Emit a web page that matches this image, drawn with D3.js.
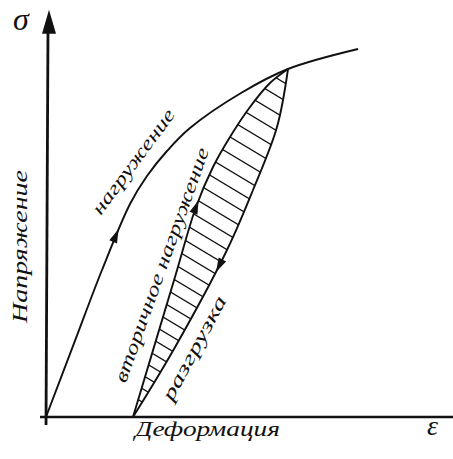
<!DOCTYPE html>
<html><head><meta charset="utf-8">
<script src="https://cdn.jsdelivr.net/npm/d3@7"></script>
<style>html,body{margin:0;padding:0;background:#fff;}svg{display:block}</style>
</head><body>
<svg id="c" width="453" height="459"></svg>
<script>
// ---- data (arbitrary units: strain ε, stress σ) ----
const loadStrain   = [0, 0.7, 1.4, 2.1, 2.525, 3.025, 3.6, 4.875, 6.05, 7.8];
const loadStress   = [0, 1.84, 3.675, 5.325, 6.025, 6.65, 7.225, 8.1, 8.7, 9.2];
const reloadStrain = [2.175, 3.225, 3.75, 4.175, 4.6, 5.1, 5.6, 6.05];
const reloadStress = [0, 3.5, 5.25, 6.25, 7.0, 7.75, 8.35, 8.7];
const unloadStrain = [6.05, 5.775, 5.175, 4.525, 3.2, 2.175];
const unloadStress = [8.7, 7.25, 5.675, 4.175, 1.7, 0];
const arrowCurve   = ["load", "reload", "unload"];
const arrowStrain  = [1.75, 3.8, 4.3];
const arrowStress  = [4.725, 5.425, 3.6];
const strainAxisExtent = [-0.15, 10.2];
const stressAxisExtent = [-0.2, 10.18];
const yAxisSymbol = "σ";
const xAxisSymbol = "ε";
const yAxisTitle = "Напряжение";
const xAxisTitle = "Деформация";
const curveLabels = ["нагружение", "вторичное нагружение", "разгрузка"];

// ---- scales ----
const x = d3.scaleLinear().domain([0, 10]).range([46, 446]);
const y = d3.scaleLinear().domain([0, 10]).range([417, 17]);
const svg = d3.select("#c");
const ink = "#111";
const line = d3.line().x(d => x(d[0])).y(d => y(d[1])).curve(d3.curveCatmullRom.alpha(0.5));
const zip = (a, b) => a.map((v, i) => [v, b[i]]);
const loadPts = zip(loadStrain, loadStress);
const reloadPts = zip(reloadStrain, reloadStress);
const unloadPts = zip(unloadStrain, unloadStress);

// ---- hatched lens (hysteresis loop) ----
const lensD = line(reloadPts) + line(unloadPts).replace(/^M/, "L") + "Z";
svg.append("clipPath").attr("id", "lens").append("path").attr("d", lensD);
const allX = reloadPts.concat(unloadPts).map(d => x(d[0]));
const allY = reloadPts.concat(unloadPts).map(d => y(d[1]));
const x0 = d3.min(allX) - 20, x1 = d3.max(allX) + 20;
const yTop = d3.min(allY), yBot = d3.max(allY);
const slope = 0.6;
const hatch = svg.append("g").attr("clip-path", "url(#lens)");
for (let c = yBot + 8; c > yTop - slope * (x1 - x0) - 20; ) {
  hatch.append("line")
    .attr("x1", x0).attr("y1", c)
    .attr("x2", x1).attr("y2", c + slope * (x1 - x0))
    .attr("stroke", ink).attr("stroke-width", 1.3);
  const mid = c + slope * 60;
  const t = Math.max(0, Math.min(1, (yBot - mid) / (yBot - yTop)));
  c -= 13.5 + 4 * t;
}

// ---- axes ----
svg.append("line")
  .attr("x1", x(strainAxisExtent[0])).attr("x2", x(strainAxisExtent[1]))
  .attr("y1", y(0)).attr("y2", y(0))
  .attr("stroke", ink).attr("stroke-width", 2.6);
svg.append("line")
  .attr("x1", x(0)).attr("x2", x(0) + 2)
  .attr("y1", y(stressAxisExtent[0])).attr("y2", y(stressAxisExtent[1]) + 18)
  .attr("stroke", ink).attr("stroke-width", 2.8);
{
  const tx = x(0) + 3, ty = y(stressAxisExtent[1]);
  svg.append("path")
    .attr("d", `M${tx},${ty} L${tx - 7},${ty + 24} L${tx + 7},${ty + 24} Z`)
    .attr("fill", ink);
}

// ---- curves ----
const paths = {};
paths.load = svg.append("path").attr("d", line(loadPts));
paths.reload = svg.append("path").attr("d", line(reloadPts));
paths.unload = svg.append("path").attr("d", line(unloadPts));
Object.values(paths).forEach(p => p.attr("fill", "none").attr("stroke", ink).attr("stroke-width", 1.9));

// ---- arrowheads along curves ----
arrowCurve.forEach((k, i) => {
  const node = paths[k].node();
  const L = node.getTotalLength();
  const tx = x(arrowStrain[i]), ty = y(arrowStress[i]);
  let best = 0, bd = Infinity;
  for (let s = 0; s <= L; s += 0.5) {
    const p = node.getPointAtLength(s);
    const d = (p.x - tx) ** 2 + (p.y - ty) ** 2;
    if (d < bd) { bd = d; best = s; }
  }
  const p = node.getPointAtLength(best);
  const a = node.getPointAtLength(Math.max(0, best - 2));
  const b = node.getPointAtLength(Math.min(L, best + 2));
  const ang = Math.atan2(b.y - a.y, b.x - a.x) * 180 / Math.PI;
  svg.append("path")
    .attr("d", "M0,0 L-14,-4.2 L-14,4.2 Z")
    .attr("transform", `translate(${p.x},${p.y}) rotate(${ang})`)
    .attr("fill", ink);
});

// ---- texts ----
const font = "'Liberation Serif', 'DejaVu Serif', serif";
svg.append("text").text(yAxisSymbol)
  .attr("x", 13).attr("y", 30)
  .attr("font-family", font).attr("font-style", "italic").attr("font-size", 32).attr("fill", ink);
svg.append("text").text(xAxisSymbol)
  .attr("x", 427).attr("y", 435)
  .attr("font-family", font).attr("font-style", "italic").attr("font-size", 28).attr("fill", ink);
svg.append("text").text(xAxisTitle)
  .attr("x", 135).attr("y", 436)
  .attr("textLength", 145).attr("lengthAdjust", "spacingAndGlyphs")
  .attr("font-family", font).attr("font-style", "italic").attr("font-size", 22).attr("fill", ink);
svg.append("text").text(yAxisTitle)
  .attr("transform", "translate(27,246.5) rotate(-90)")
  .attr("text-anchor", "middle")
  .attr("textLength", 153).attr("lengthAdjust", "spacingAndGlyphs")
  .attr("font-family", font).attr("font-style", "italic").attr("font-size", 22).attr("fill", ink);

const labelPos = [
  { cx: 134.5, cy: 162.5, ang: -53.4, len: 126 },
  { cx: 163, cy: 265.5, ang: -70.3, len: 248 },
  { cx: 195.5, cy: 349, ang: -61.7, len: 116 }
];
curveLabels.forEach((t, i) => {
  const p = labelPos[i];
  svg.append("text").text(t)
    .attr("transform", `translate(${p.cx},${p.cy}) rotate(${p.ang})`)
    .attr("text-anchor", "middle").attr("dy", "0.25em")
    .attr("textLength", p.len).attr("lengthAdjust", "spacingAndGlyphs")
    .attr("font-family", font).attr("font-style", "italic").attr("font-size", 19).attr("fill", ink);
});
</script>
</body></html>
